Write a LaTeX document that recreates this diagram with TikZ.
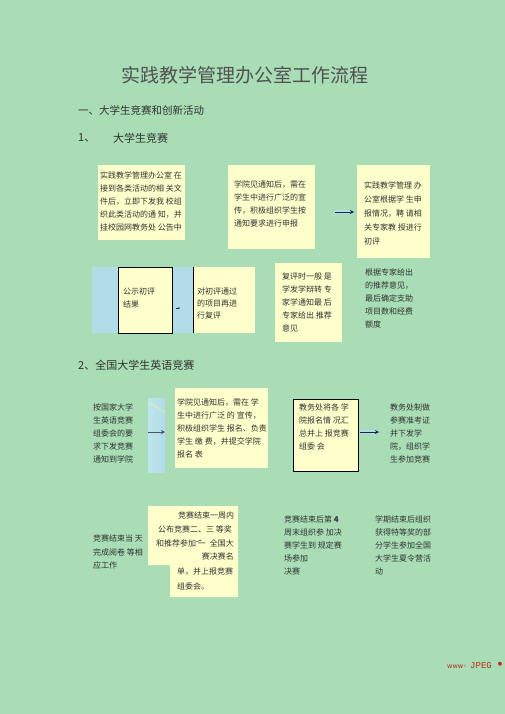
\documentclass[tikz,border=0pt]{standalone}
\usepackage{fontspec}
\setmainfont{Noto Sans CJK SC}
\newfontfamily\dejavu{DejaVu Sans}
\newfontfamily\monofnt{Liberation Mono}
\usetikzlibrary{arrows.meta}
\definecolor{bg}{RGB}{168,221,181}
\definecolor{ylw}{RGB}{255,255,204}
\definecolor{lblue}{RGB}{176,221,232}
\definecolor{ink}{RGB}{50,50,50}
\definecolor{navy}{RGB}{30,40,70}
\definecolor{redmark}{RGB}{190,40,30}
\begin{document}
\begin{tikzpicture}[x=1pt,y=-1pt,
  ybox/.style={fill=ylw,draw=none,inner sep=0,anchor=north west},
  bbox/.style={ybox,draw=black,line width=0.8pt},
  txt/.style={inner sep=0,anchor=north west,align=left,text=ink,font=\fontsize{8}{13}\selectfont},
  lbl/.style={inner sep=0,anchor=west,text=ink},
  flow/.style={draw=navy,line width=1pt,-{Stealth[length=4pt,width=4pt]}},
  glow/.style={draw=lblue,line width=3.5pt}]
\fill[bg] (0,0) rectangle (505,714);
\useasboundingbox (0,0) rectangle (505,714);

% headings
\node[inner sep=0,text=ink!85,font=\fontsize{19}{19}\selectfont] (title) at (245,75) {实践教学管理办公室工作流程};
\node[lbl,font=\fontsize{10.5}{11}\selectfont] (h1) at (78,110) {一、大学生竞赛和创新活动};
\node[lbl,font=\fontsize{11}{11}\selectfont] (h11) at (78,138) {1、};
\node[lbl,font=\fontsize{11}{11}\selectfont] (h11b) at (113,138) {大学生竞赛};

% row 1
\node[ybox,minimum width=87,minimum height=75] (bA) at (98,165) {};
\node[txt] (tA) at (100,171) {实践教学管理办公室\ 在\\接到各类活动的相\ 关文\\件后，立即下发我\ 校组\\织此类活动的通\ 知，并\\挂校园网教务处\ 公告中};
\node[ybox,minimum width=87,minimum height=84] (bB) at (228,165) {};
\node[txt] (tB) at (234,181) {学院见通知后，需在\\学生中进行广泛的宣\\传，积极组织学生按\\通知要求进行申报};
\node[ybox,minimum width=73,minimum height=93] (bC) at (357,165) {};
\node[txt,font=\fontsize{8}{13.8}\selectfont] (tC) at (364,182) {实践教学管理\ 办\\公室根据学\ 生申\\报情况，聘\ 请相\\关专家教\ 授进行\\初评};
\coordinate (a1s) at (335,212);
\coordinate (a1e) at (354,212);
\draw[glow] (a1s) -- (a1e);
\draw[flow] (a1s) -- (a1e);

% row 2
\node[fill=lblue,inner sep=0,anchor=north west,minimum width=101,minimum height=66] (blue1) at (92,267) {};
\node[bbox,minimum width=54,minimum height=66] (bD) at (118,267) {};
\node[txt] (tD) at (123,288) {公示初评\\结果};
\coordinate (a2s) at (175.5,308);
\coordinate (a2e) at (180,308);
\draw[draw=navy,line width=0.4pt,-{Stealth[length=1.5pt,width=1.5pt]}] (a2s) -- (a2e);
\node[ybox,minimum width=62,minimum height=66] (bE) at (193,267) {};
\draw[black,line width=0.8pt] (bE.north west) -- (bE.south west);
\node[txt,font=\fontsize{8}{12}\selectfont] (tE) at (197,288) {对初评通过\\的项目再进\\行复评};
\node[ybox,minimum width=67,minimum height=79] (bF) at (275,263) {};
\node[txt] (tF) at (282,273) {复评时一般\ 是\\学发学辩转\ 专\\家学通知最\ 后\\专家给出\ 推荐\\意见};
\node[txt] (tG) at (365,269) {根据专家给出\\的推荐意见，\\最后确定支助\\项目数和经费\\额度};

% section 2
\node[lbl,font=\fontsize{11}{11}\selectfont] (h2) at (78,365) {2、全国大学生英语竞赛};

\node[txt] (tH) at (93,404) {按国家大学\\生英语竞赛\\组委会的要\\求下发竞赛\\通知到学院};
\node[inner sep=0,anchor=north west,minimum width=17,minimum height=74,left color=lblue!80!white,right color=lblue] (blue2) at (148,398) {};
\draw[yellow!60!white,opacity=0.45,line width=1.2pt] (148.5,402) -- (164.5,412);
\coordinate (a3s) at (148,432);
\coordinate (a3e) at (165,432);
\draw[draw=navy!80,line width=0.8pt,-{Stealth[length=4pt,width=4pt]}] (a3s) -- (a3e);
\node[ybox,minimum width=93,minimum height=80] (bI) at (175,388) {};
\node[txt] (tI) at (177,399) {学院见通知后，需在\ 学\\生中进行广泛\ 的\ 宣传，\\积极组织学生\ 报名、负责\\学生\ 缴\ 费，并提交学院\\报名\ 表};
\node[bbox,line width=1pt,minimum width=65,minimum height=72] (bJ) at (293,399) {};
\node[txt] (tJ) at (299,404) {教务处将各\ 学\\院报名情\ 况汇\\总并上\ 报竞赛\\组委\ 会};
\coordinate (a4s) at (360,432);
\coordinate (a4e) at (379,432);
\draw[glow] (a4s) -- (a4e);
\draw[flow] (a4s) -- (a4e);
\node[txt] (tK) at (390,404) {教务处制做\\参赛准考证\\并下发学\\院，组织学\\生参加竞赛};

% row 2 of section 2
\node[txt,font=\fontsize{8}{13.5}\selectfont] (tL) at (93,535) {竞赛结束当\ 天\\完成阅卷\ 等相\\应工作};
\fill[ylw] (148,506) -- (238,506) -- (238,597) -- (170,597) -- (170,565) -- (148,565) -- cycle;
\node[lbl,font=\fontsize{8}{8}\selectfont] (m1) at (178,515) {竞赛结束一周内};
\node[lbl,font=\fontsize{8}{8}\selectfont] (m2) at (158,529) {公布竞赛二、三\ 等奖};
\node[lbl,font=\fontsize{8}{8}\selectfont] (m3) at (156,543) {和推荐参加\ 一};
\coordinate (a5s) at (196,542);
\coordinate (a5e) at (201,540);
\draw[draw=navy,line width=0.4pt,-{Stealth[length=1.5pt,width=1.5pt]}] (a5s) -- (a5e);
\node[inner sep=0,anchor=east,text=ink,font=\fontsize{8}{8}\selectfont] (m4) at (234,543) {全国大};
\node[inner sep=0,anchor=east,text=ink,font=\fontsize{8}{8}\selectfont] (m5) at (234,556) {赛决赛名};
\node[lbl,font=\fontsize{8}{8}\selectfont] (m6) at (177,572) {单，并上报竞赛};
\node[lbl,font=\fontsize{8}{8}\selectfont] (m7) at (177,586) {组委会。};

\node[txt] (tN) at (284,516) {竞赛结束后第\ \textbf{4}\\周末组织参\ 加决\\赛学生到\ 规定赛\\场参加\\决赛};
\node[txt] (tO) at (375,516) {学期结束后组织\\获得特等奖的部\\分学生参加全国\\大学生夏令营活\\动};

% footer mark
\node[lbl,text=redmark,font=\dejavu\fontsize{6.5}{6.5}\selectfont] (f1) at (447,667) {www◦};
\node[lbl,text=redmark,font=\monofnt\fontsize{9}{9}\selectfont] (f2) at (470,666) {JPEG};
\node[inner sep=0,text=redmark,font=\dejavu\fontsize{5}{5}\selectfont] (f3) at (500,664) {●};
\end{tikzpicture}
\end{document}
